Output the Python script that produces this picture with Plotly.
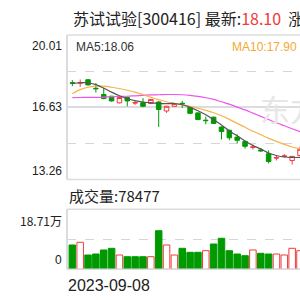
import plotly.graph_objects as go

# ---------------- data ----------------
dates = ["2023-09-08", "2023-09-11", "2023-09-12", "2023-09-13", "2023-09-14", "2023-09-15",
         "2023-09-18", "2023-09-19", "2023-09-20", "2023-09-21", "2023-09-22", "2023-09-25",
         "2023-09-26", "2023-09-27", "2023-09-28", "2023-10-09", "2023-10-10", "2023-10-11",
         "2023-10-12", "2023-10-13", "2023-10-16", "2023-10-17", "2023-10-18", "2023-10-19",
         "2023-10-20", "2023-10-23", "2023-10-24", "2023-10-25", "2023-10-26", "2023-10-27"]

open_ = [17.78, 17.76, 17.92, 17.52, 17.23, 17.15, 16.84, 17.09, 16.83, 16.84, 16.81, 16.88,
         16.46, 16.68, 16.82, 16.63, 16.37, 16.03, 16.17, 15.71, 15.56, 15.24, 15.04, 14.76,
         14.64, 14.46, 14.26, 14.34, 14.15, 14.38]
high = [17.90, 17.93, 17.95, 17.76, 17.53, 17.17, 17.10, 17.12, 16.95, 17.06, 17.02, 16.92,
        16.70, 16.83, 16.93, 16.66, 16.40, 16.20, 16.20, 15.74, 15.58, 15.37, 15.06, 14.90,
        14.72, 14.62, 14.40, 14.45, 14.36, 14.80]
low = [17.62, 17.59, 17.64, 17.32, 17.01, 16.90, 16.82, 16.68, 16.75, 16.64, 16.78, 15.71,
       16.37, 16.66, 16.60, 16.32, 16.03, 15.84, 15.85, 15.13, 15.09, 14.95, 14.70, 14.66,
       14.55, 14.01, 14.15, 14.28, 13.96, 14.35]
close = [17.76, 17.78, 17.68, 17.50, 17.04, 16.93, 17.09, 16.93, 16.85, 16.68, 17.00, 16.53,
         16.68, 16.81, 16.79, 16.35, 16.06, 16.01, 15.88, 15.50, 15.21, 15.09, 14.81, 14.78,
         14.60, 14.10, 14.28, 14.36, 14.34, 14.67]

ma5 = [17.74, 17.78, 17.78, 17.69, 17.53, 17.34, 17.17, 17.03, 16.94, 16.87, 16.85, 16.81,
       16.80, 16.81, 16.75, 16.63, 16.47, 16.28, 16.05, 15.81, 15.53, 15.30, 15.06, 14.85,
       14.69, 14.50, 14.38, 14.31, 14.29, 14.29]
ma10 = [17.27, 17.46, 17.57, 17.62, 17.62, 17.57, 17.51, 17.43, 17.34, 17.22, 17.10, 16.99,
        16.89, 16.82, 16.75, 16.68, 16.59, 16.49, 16.38, 16.24, 16.07, 15.88, 15.70, 15.51,
        15.35, 15.18, 15.04, 14.90, 14.78, 14.69]
ma20 = [17.08, 17.09, 17.10, 17.10, 17.11, 17.13, 17.14, 17.15, 17.17, 17.19, 17.21, 17.22,
        17.23, 17.23, 17.22, 17.19, 17.14, 17.08, 17.00, 16.89, 16.78, 16.64, 16.51, 16.36,
        16.21, 16.06, 15.91, 15.77, 15.63, 15.49]

volume = [75800, 84200, 44600, 47700, 60200, 65500, 44600, 39300, 39300, 39300, 39300, 120400,
          75800, 44600, 65500, 53000, 53000, 58000, 78900, 96700, 58000, 47700, 42400, 60200,
          49900, 47700, 47700, 44600, 65500, 58000]
volume_up = [0, 1, 0, 0, 0, 0, 1, 0, 0, 0, 1, 0, 1, 1, 0, 0, 0, 1, 0, 0, 0, 0, 0, 1, 0, 0,
             1, 1, 1, 1]

price_ticks = [20.01, 16.63, 13.26]
price_max, price_min = 20.01, 13.26
vol_max = 187100
vol_tick_labels = ["18.71万", "0"]

stock_name = "苏试试验[300416]"
latest = "18.10"
ma5_now, ma10_now = "18.06", "17.90"
vol_now = "78477"

# ---------------- styling ----------------
RED = "#f23a3a"
GREEN = "#009a00"
GRID = "#dcdce0"
W, H = 300, 300

def px_x(p):
    return p / W

def px_y(p):
    return 1 - p / H

x_left = 67
price_top, price_bot = 35, 179.5
vol_top, vol_bot = 209.3, 269.3

fig = go.Figure()

fig.add_trace(go.Candlestick(
    x=dates, open=open_, high=high, low=low, close=close,
    increasing=dict(line=dict(color=RED, width=1), fillcolor="white"),
    decreasing=dict(line=dict(color=GREEN, width=1), fillcolor=GREEN),
    whiskerwidth=0, xaxis="x", yaxis="y", showlegend=False, hoverinfo="skip"))

for vals, col in [(ma20, "#ee55ee"), (ma10, "#f7b24a"), (ma5, "#555555")]:
    fig.add_trace(go.Scatter(x=dates, y=vals, mode="lines",
                             line=dict(color=col, width=1.2, shape="spline"),
                             xaxis="x", yaxis="y", showlegend=False, hoverinfo="skip"))

fig.add_trace(go.Bar(
    x=dates, y=volume,
    marker=dict(color=["white" if u else GREEN for u in volume_up],
                line=dict(color=[RED if u else GREEN for u in volume_up], width=1)),
    xaxis="x", yaxis="y2", showlegend=False, hoverinfo="skip"))

xr = [-0.68, 29.0]
fig.update_layout(
    width=W, height=H, margin=dict(l=0, r=0, t=0, b=0),
    paper_bgcolor="white", plot_bgcolor="white",
    boxgap=0.18, bargap=0.17,
    xaxis=dict(domain=[px_x(x_left), 1], range=xr, type="category", showticklabels=False,
               showgrid=False, zeroline=False, rangeslider=dict(visible=False), anchor="y2"),
    yaxis=dict(domain=[px_y(price_bot), px_y(price_top)], range=[price_min, price_max],
               showticklabels=False, zeroline=False,
               tickvals=[price_ticks[1]], gridcolor=GRID, gridwidth=1.5,
               minor=dict(tickvals=[(price_min + price_ticks[1]) / 2, (price_max + price_ticks[1]) / 2],
                          showgrid=True, griddash="dash", gridcolor="#d6d6d6", gridwidth=1)),
    yaxis2=dict(domain=[px_y(vol_bot), px_y(vol_top)], range=[0, vol_max],
                showticklabels=False, zeroline=False, showgrid=False,
                minor=dict(tickvals=[vol_max / 2], showgrid=True, griddash="dash",
                           gridcolor="#d6d6d6", gridwidth=1)),
)

shapes = []
for (yt, yb) in [(price_top, price_bot), (vol_top, vol_bot)]:
    shapes.append(dict(type="line", xref="paper", yref="paper", x0=px_x(x_left), x1=1.02,
                       y0=px_y(yt), y1=px_y(yt), line=dict(color=GRID, width=1.5)))
    shapes.append(dict(type="line", xref="paper", yref="paper", x0=px_x(x_left), x1=1.02,
                       y0=px_y(yb), y1=px_y(yb), line=dict(color=GRID, width=1.5)))
    shapes.append(dict(type="line", xref="paper", yref="paper", x0=px_x(x_left), x1=px_x(x_left),
                       y0=px_y(yt), y1=px_y(yb), line=dict(color=GRID, width=2)))
fig.update_layout(shapes=shapes)

LAT = "Liberation Sans, Arial, sans-serif"
CJK = "Noto Sans CJK SC, sans-serif"
ann = []
# watermark
ann.append(dict(text="东方财富", xref="paper", yref="paper", x=px_x(258), y=px_y(108),
                xanchor="left", yanchor="middle", showarrow=False,
                font=dict(family=CJK, size=30, color="#e6e6e6")))
# title
ann.append(dict(text=f"{stock_name} 最新:<span style='color:{RED}'>{latest}</span>  涨跌",
                xref="paper", yref="paper", x=px_x(71), y=px_y(18), xanchor="left",
                yanchor="middle", showarrow=False,
                font=dict(family=CJK, size=16, color="#222222")))
ann.append(dict(text=f"MA5:{ma5_now}", xref="paper", yref="paper", x=px_x(74), y=px_y(46.5),
                xanchor="left", yanchor="middle", showarrow=False,
                font=dict(family=LAT, size=12, color="#333333")))
ann.append(dict(text=f"MA10:{ma10_now}", xref="paper", yref="paper", x=px_x(299), y=px_y(46.5),
                xanchor="right", yanchor="middle", showarrow=False,
                font=dict(family=LAT, size=12, color="#f7a733")))
# price labels
for v, anch, sh in [(price_ticks[0], "top", -2), (price_ticks[1], "middle", 0), (price_ticks[2], "bottom", 0)]:
    ann.append(dict(text=f"{v:.2f}", xref="paper", yref="y", x=px_x(64), y=v, xanchor="right",
                    yanchor=anch, yshift=sh, showarrow=False,
                    font=dict(family=LAT, size=12, color="#222222")))
# volume
ann.append(dict(text=f"成交量:{vol_now}", xref="paper", yref="paper", x=px_x(67), y=px_y(195),
                xanchor="left", yanchor="middle", showarrow=False,
                font=dict(family=CJK, size=15, color="#222222")))
ann.append(dict(text=vol_tick_labels[0], xref="paper", yref="y2", x=px_x(64), y=vol_max,
                xanchor="right", yanchor="top", yshift=-1, showarrow=False,
                font=dict(family=CJK, size=12, color="#222222")))
ann.append(dict(text=vol_tick_labels[1], xref="paper", yref="y2", x=px_x(64), y=0,
                xanchor="right", yanchor="bottom", showarrow=False,
                font=dict(family=LAT, size=12, color="#222222")))
ann.append(dict(text=dates[0], xref="paper", yref="paper", x=px_x(66), y=px_y(285),
                xanchor="left", yanchor="middle", showarrow=False,
                font=dict(family=LAT, size=16, color="#222222")))
fig.update_layout(annotations=ann)

fig.write_html("out.html")
